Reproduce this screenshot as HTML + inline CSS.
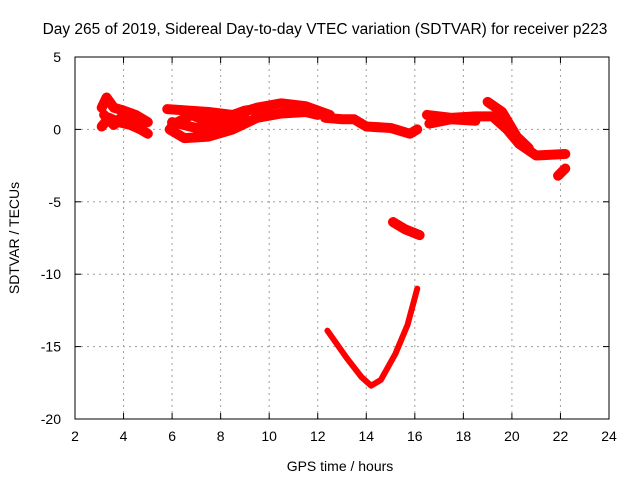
<!DOCTYPE html>
<html><head><meta charset="utf-8"><style>
body{margin:0;background:#fff}
svg{display:block;font-family:"Liberation Sans",sans-serif}
</style></head><body>
<svg id="chart" width="640" height="480" viewBox="0 0 640 480" xmlns="http://www.w3.org/2000/svg">
<rect width="640" height="480" fill="#fff"/>
<text x="325" y="34" text-anchor="middle" font-size="15.5">Day 265 of 2019, Sidereal Day-to-day VTEC variation (SDTVAR) for receiver p223</text>
<g id="grid"></g>
<g id="ticks"></g>
<g id="marks"></g>
<rect x="75" y="57" width="534" height="362" fill="none" stroke="#000" stroke-width="1"/>
<text x="340" y="471" text-anchor="middle" font-size="14">GPS time / hours</text>
<text transform="translate(19,238) rotate(-90)" text-anchor="middle" font-size="14">SDTVAR / TECUs</text>
</svg>
<script>
const xTicks=[2,4,6,8,10,12,14,16,18,20,22,24];
const yTicks=[5,0,-5,-10,-15,-20];
const trackA1=[[3.1,1.5],[3.3,2.2],[3.6,1.5],[4.0,1.3],[4.5,1.0],[5.0,0.5]];
const trackA2=[[3.1,0.2],[3.4,0.8],[3.8,0.5],[4.3,0.3],[4.7,0.0],[5.0,-0.3]];
const trackA3=[[3.2,1.0],[3.6,0.3],[4.0,1.0],[4.5,0.8],[4.8,0.3]];
const trackB1=[[5.8,1.4],[7.5,1.2],[8.5,1.0],[9.5,1.5],[10.5,1.8],[11.5,1.6],[12.5,1.0]];
const trackB2=[[5.9,0.0],[6.5,-0.6],[7.5,-0.5],[8.5,0.0],[9.5,0.8],[10.5,1.1],[11.5,1.2],[12.0,1.0]];
const trackB3=[[6.0,0.3],[6.8,1.0],[7.5,0.5],[8.2,0.8],[9.0,1.3],[10.0,1.5]];
const trackB4=[[6.0,0.5],[7.0,0.1],[8.0,0.2],[9.0,0.8]];
const trackC=[[12.3,0.8],[13.0,0.7],[13.5,0.7],[14.0,0.2],[15.0,0.1],[15.8,-0.3],[16.1,0.0]];
const trackD1=[[16.5,1.0],[17.5,0.8],[18.5,0.9],[19.2,0.9],[19.8,0.0],[20.3,-1.0],[21.0,-1.8],[22.2,-1.7]];
const trackD2=[[19.0,1.9],[19.6,1.2],[20.2,-0.5],[20.7,-1.3]];
const trackD3=[[16.6,0.4],[17.5,0.7],[18.5,0.6]];
const trackE=[[21.9,-3.2],[22.2,-2.7]];
const trackF=[[15.1,-6.4],[15.6,-6.9],[16.2,-7.3]];
const trackG=[[12.4,-13.9],[13.2,-15.8],[13.8,-17.1],[14.2,-17.7],[14.6,-17.3],[15.2,-15.5],[15.7,-13.5],[16.1,-11.0]];
const thick=[trackA1,trackA2,trackA3,trackB1,trackB2,trackB3,trackB4,trackC,trackD1,trackD2,trackD3,trackE,trackF];
const thin=[trackG];
const X=v=>75+(v-2)*534/22, Y=v=>57+(5-v)*362/25;
const NS="http://www.w3.org/2000/svg";
const g=document.getElementById('grid'),t=document.getElementById('ticks'),m=document.getElementById('marks');
function mk(tag,a,p){const e=document.createElementNS(NS,tag);for(const k in a)e.setAttribute(k,a[k]);p.appendChild(e);return e;}
xTicks.forEach(v=>{
 if(v>2&&v<24){const l=mk('line',{x1:X(v),x2:X(v),y1:57,y2:419,stroke:'#a0a0a0','stroke-dasharray':'2,4'},g);
 
 }
 const tx=mk('text',{x:X(v),y:441,'text-anchor':'middle','font-size':'14'},t);tx.textContent=v;
 
 
 mk('line',{x1:X(v),x2:X(v),y1:419,y2:413,stroke:'#000'},t);mk('line',{x1:X(v),x2:X(v),y1:57,y2:63,stroke:'#000'},t);
});
yTicks.forEach(v=>{
 if(v<5&&v>-20){const l=mk('line',{x1:75,x2:609,y1:Y(v),y2:Y(v),stroke:'#a0a0a0','stroke-dasharray':'2,4'},g);
 
 }
 const tx=mk('text',{x:61,y:Y(v)+5,'text-anchor':'end','font-size':'14'},t);tx.textContent=v;
 
 
 mk('line',{x1:75,x2:81,y1:Y(v),y2:Y(v),stroke:'#000'},t);mk('line',{x1:609,x2:603,y1:Y(v),y2:Y(v),stroke:'#000'},t);
});
function draw(tr,w){const p=mk('polyline',{points:tr.map(d=>X(d[0])+','+Y(d[1])).join(' '),fill:'none',stroke:'#ff0000','stroke-width':w,'stroke-linejoin':'round','stroke-linecap':'round'},m);
 
 }
thick.forEach(tr=>draw(tr,10));
thin.forEach(tr=>draw(tr,6));
</script>
</body></html>
